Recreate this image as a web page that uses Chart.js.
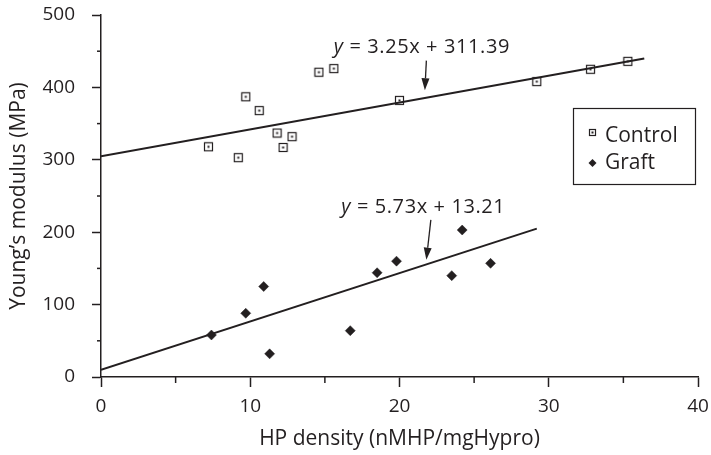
<!DOCTYPE html>
<html>
<head>
<meta charset="utf-8">
<script src="https://cdn.jsdelivr.net/npm/chart.js@4.4.1/dist/chart.umd.min.js"></script>
<style>
  html, body { margin: 0; padding: 0; background: #fff; }
  #wrap { width: 711px; height: 455px; position: relative; }
</style>
</head>
<body>
<div id="wrap"><canvas id="chart"></canvas></div>
<script>
// Data
const controlX = [7.2, 9.2, 9.7, 10.6, 11.8, 12.2, 12.8, 14.6, 15.6, 20.0, 29.2, 32.8, 35.3];
const controlY = [318, 303, 387, 368, 337, 317, 332, 421, 426, 382, 408, 425, 436];
const graftX = [7.4, 9.7, 10.9, 11.3, 16.7, 18.5, 19.8, 23.5, 24.2, 26.1];
const graftY = [58, 88, 125, 32, 64, 144, 160, 140, 203, 157];

// Fitted lines as drawn
const controlFitX = [0, 36.4];
const controlFitY = [305, 440];
const graftFitX = [0, 29.2];
const graftFitY = [10, 205];

const seriesNames = ['Control', 'Graft'];
const equations = ['3.25x + 311.39', '5.73x + 13.21'];
const xMinorTicks = [5, 15, 25, 35];
const yMinorTicks = [50, 150, 250, 350, 450];

const INK = '#231f20';
const FONT = "'Open Sans', sans-serif";

function toPoints(xs, ys) {
  return xs.map((x, i) => ({ x: x, y: ys[i] }));
}

function makeBoxMarker(size) {
  const c = document.createElement('canvas');
  c.width = size; c.height = size;
  const g = c.getContext('2d');
  g.strokeStyle = INK;
  g.lineWidth = 1.2;
  g.strokeRect(1.5, 1.5, size - 3, size - 3);
  g.fillStyle = INK;
  const m = size / 2;
  g.fillRect(m - 1, m - 1, 2, 2);
  return c;
}
const boxMarker = makeBoxMarker(11);
const legendBox = makeBoxMarker(9);

// annotation placement (data coords)
const notes = [
  { text: equations[0], at: [15.6, 448], from: [21.8, 437], to: [21.7, 396] },
  { text: equations[1], at: [16.1, 227], from: [22.1, 217], to: [21.8, 162] }
];

const extras = {
  id: 'extras',
  afterDraw(chart) {
    const ctx = chart.ctx;
    const xs = chart.scales.x;
    const ys = chart.scales.y;
    const area = chart.chartArea;
    ctx.save();
    ctx.strokeStyle = INK;
    ctx.fillStyle = INK;
    ctx.lineWidth = 1.5;

    // minor ticks
    xMinorTicks.forEach(v => {
      const px = xs.getPixelForValue(v);
      ctx.beginPath();
      ctx.moveTo(px, area.bottom);
      ctx.lineTo(px, area.bottom + 6);
      ctx.stroke();
    });
    yMinorTicks.forEach(v => {
      const py = ys.getPixelForValue(v);
      ctx.beginPath();
      ctx.moveTo(area.left, py);
      ctx.lineTo(area.left - 4, py);
      ctx.stroke();
    });

    // equations + arrows
    notes.forEach(n => {
      let x = xs.getPixelForValue(n.at[0]);
      const y = ys.getPixelForValue(n.at[1]);
      ctx.textBaseline = 'alphabetic';
      ctx.textAlign = 'left';
      ctx.letterSpacing = '0.6px';
      ctx.font = 'italic 20px ' + FONT;
      ctx.fillText('y', x, y);
      x += ctx.measureText('y').width;
      ctx.font = '20px ' + FONT;
      ctx.fillText(' = ' + n.text, x, y);
      ctx.letterSpacing = '0px';

      const x1 = xs.getPixelForValue(n.from[0]), y1 = ys.getPixelForValue(n.from[1]);
      const x2 = xs.getPixelForValue(n.to[0]), y2 = ys.getPixelForValue(n.to[1]);
      const ang = Math.atan2(y2 - y1, x2 - x1);
      const hl = 12, hw = 4;
      ctx.lineWidth = 1.3;
      ctx.beginPath();
      ctx.moveTo(x1, y1);
      ctx.lineTo(x2 - Math.cos(ang) * hl, y2 - Math.sin(ang) * hl);
      ctx.stroke();
      ctx.beginPath();
      ctx.moveTo(x2, y2);
      ctx.lineTo(x2 - Math.cos(ang) * hl - Math.sin(ang) * hw, y2 - Math.sin(ang) * hl + Math.cos(ang) * hw);
      ctx.lineTo(x2 - Math.cos(ang) * hl + Math.sin(ang) * hw, y2 - Math.sin(ang) * hl - Math.cos(ang) * hw);
      ctx.closePath();
      ctx.fill();
    });

    // legend box
    const lx = 573, ly = 108, lw = 122, lh = 76;
    ctx.lineWidth = 1.2;
    ctx.strokeRect(lx + 0.5, ly + 0.5, lw, lh);
    ctx.font = '21px ' + FONT;
    ctx.textBaseline = 'alphabetic';
    ctx.drawImage(legendBox, lx + 15, ly + 20);
    ctx.fillText(seriesNames[0], lx + 32, ly + 34);
    ctx.beginPath();
    ctx.moveTo(lx + 19.5, ly + 51);
    ctx.lineTo(lx + 23.5, ly + 55);
    ctx.lineTo(lx + 19.5, ly + 59);
    ctx.lineTo(lx + 15.5, ly + 55);
    ctx.closePath();
    ctx.fill();
    ctx.fillText(seriesNames[1], lx + 32, ly + 61);
    ctx.restore();
  }
};

const chart = new Chart(document.getElementById('chart'), {
  type: 'scatter',
  data: {
    datasets: [
      {
        label: seriesNames[0],
        data: toPoints(controlX, controlY),
        pointStyle: boxMarker,
        pointRadius: 5
      },
      {
        label: seriesNames[1],
        data: toPoints(graftX, graftY),
        pointStyle: 'rectRot',
        pointRadius: 5,
        backgroundColor: INK,
        borderColor: INK,
        borderWidth: 0.5
      },
      {
        label: 'fit1',
        type: 'line',
        data: toPoints(controlFitX, controlFitY),
        borderColor: INK,
        borderWidth: 2,
        pointRadius: 0,
        fill: false
      },
      {
        label: 'fit2',
        type: 'line',
        data: toPoints(graftFitX, graftFitY),
        borderColor: INK,
        borderWidth: 2,
        pointRadius: 0,
        fill: false
      }
    ]
  },
  options: {
    responsive: true,
    maintainAspectRatio: false,
    animation: false,
    layout: { padding: { top: 15, right: 13, left: 0, bottom: 0 } },
    plugins: {
      legend: { display: false },
      tooltip: { enabled: false }
    },
    scales: {
      x: {
        type: 'linear',
        min: 0,
        max: 40,
        afterFit: s => { s.height = 78; s.paddingLeft = 0; s.paddingRight = 0; },
        border: { display: true, color: INK, width: 1.5 },
        grid: { drawOnChartArea: false, tickLength: 10, tickWidth: 1.5, tickColor: INK },
        ticks: { stepSize: 10, color: INK, padding: 8, font: { family: FONT, size: 19 } },
        title: {
          display: true,
          text: 'HP density (nMHP/mgHypro)',
          color: INK,
          padding: { top: 0, bottom: 3 },
          font: { family: FONT, size: 21 }
        }
      },
      y: {
        min: 0,
        max: 500,
        afterFit: s => { s.width = 101; s.paddingTop = 0; s.paddingBottom = 0; },
        border: { display: true, color: INK, width: 1.5 },
        grid: { drawOnChartArea: false, tickLength: 9, tickWidth: 1.5, tickColor: INK },
        ticks: { stepSize: 100, color: INK, padding: 17, font: { family: FONT, size: 19 } },
        title: {
          display: true,
          text: 'Young\u2019s modulus (MPa)',
          color: INK,
          padding: { top: 6, bottom: 0 },
          font: { family: FONT, size: 21 }
        }
      }
    }
  },
  plugins: [extras]
});
</script>
</body>
</html>
